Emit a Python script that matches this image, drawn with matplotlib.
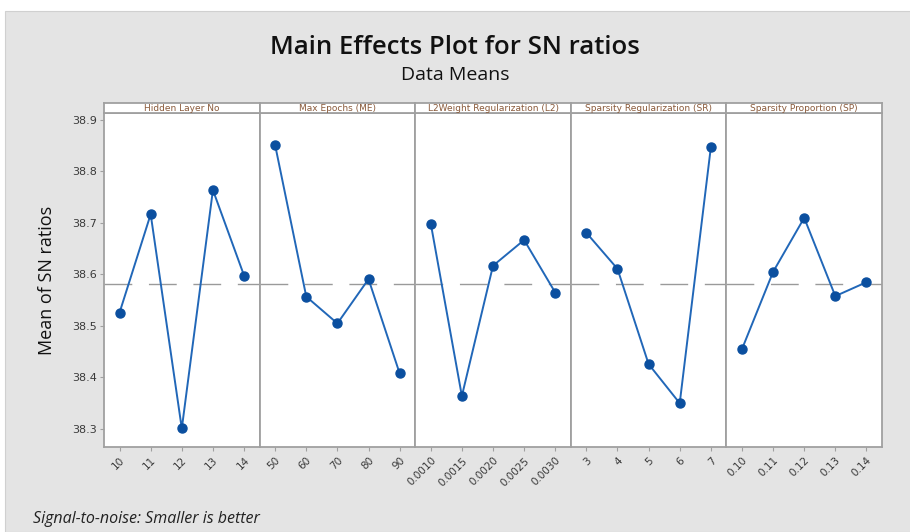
import matplotlib
matplotlib.use("Agg")
import matplotlib.pyplot as plt
from matplotlib.patches import Rectangle

plt.rcParams['font.family'] = ['Open Sans', 'DejaVu Sans']

# Czynniki i poziomy
FACTORS = ["Hidden Layer No", "Max Epochs (ME)", "L2Weight Regularization (L2)",
           "Sparsity Regularization (SR)", "Sparsity Proportion (SP)"]
LEVELS = [
    ["10", "11", "12", "13", "14"],
    ["50", "60", "70", "80", "90"],
    ["0.0010", "0.0015", "0.0020", "0.0025", "0.0030"],
    ["3", "4", "5", "6", "7"],
    ["0.10", "0.11", "0.12", "0.13", "0.14"],
]
SN_HIDDEN = [38.526, 38.717, 38.301, 38.764, 38.598]
SN_EPOCHS = [38.851, 38.557, 38.505, 38.591, 38.408]
SN_L2 = [38.699, 38.364, 38.617, 38.667, 38.565]
SN_SR = [38.681, 38.611, 38.426, 38.350, 38.847]
SN_SP = [38.455, 38.605, 38.710, 38.558, 38.585]
SN_MEANS = [SN_HIDDEN, SN_EPOCHS, SN_L2, SN_SR, SN_SP]
GRAND_MEAN = 38.581
Y_TICKS = [38.3, 38.4, 38.5, 38.6, 38.7, 38.8, 38.9]

W, H = 910, 532
fig = plt.figure(figsize=(W / 100, H / 100), dpi=100)
fig.patch.set_facecolor("white")
fig.patches.append(Rectangle((5 / W, 0), 1, 1 - 11 / H, transform=fig.transFigure,
                             facecolor="#e4e4e4", edgecolor="#d0d0d0", lw=0.8, zorder=-10))

frame_col = "#a0a0a0"
left, right = 104 / W, 882 / W
pw = (right - left) / len(FACTORS)
bottom = 1 - 447 / H
top = 1 - 113 / H
hdr_h = 10 / H

for i, (name, levels, vals) in enumerate(zip(FACTORS, LEVELS, SN_MEANS)):
    x0 = left + i * pw
    ax = fig.add_axes([x0, bottom, pw, top - bottom])
    ax.set_facecolor("white")
    x = list(range(1, len(levels) + 1))
    ax.axhline(GRAND_MEAN, color="#9a9a9a", lw=1.0, ls=(0, (20, 12)), zorder=1)
    ax.plot(x, vals, color="#2167b8", lw=1.4, zorder=2)
    ax.plot(x, vals, ls="none", marker="o", ms=6.5, color="#0b4f9f", zorder=3)
    ax.set_xlim(0.5, 5.5)
    ax.set_ylim(38.265, 38.9136)
    ax.set_xticks(x)
    ax.set_xticklabels(levels, rotation=45, ha="right", va="top", rotation_mode="anchor",
                       fontsize=7.5, color="#3a3a3a", family="DejaVu Sans")
    ax.tick_params(axis="x", length=3, width=0.8, color=frame_col, pad=3)
    if i == 0:
        ax.set_yticks(Y_TICKS)
        ax.set_yticklabels([f"{v:.1f}" for v in Y_TICKS], fontsize=8, color="#3a3a3a",
                           family="DejaVu Sans")
        ax.tick_params(axis="y", length=3, width=0.8, color=frame_col, pad=2)
        ax.set_ylabel("Mean of SN ratios", fontsize=13, color="#111111", labelpad=12)
    else:
        ax.set_yticks([])
    for s in ax.spines.values():
        s.set_color(frame_col)
        s.set_linewidth(1.3)

    # naglowek panelu
    hx = fig.add_axes([x0, top, pw, hdr_h])
    hx.set_facecolor("white")
    hx.set_xticks([])
    hx.set_yticks([])
    for s in hx.spines.values():
        s.set_color(frame_col)
        s.set_linewidth(1.3)
    hx.text(0.5, 0.45, name, ha="center", va="center", fontsize=6.5,
            color="#8a5a3a", family="DejaVu Sans", transform=hx.transAxes)

fig.text(0.5, 1 - 47 / H, "Main Effects Plot for SN ratios", ha="center", va="center",
         fontsize=18.5, weight="semibold", color="#111111")
fig.text(0.5, 1 - 75 / H, "Data Means", ha="center", va="center",
         fontsize=14, color="#111111")
fig.text(33 / W, 1 - 519 / H, "Signal-to-noise: Smaller is better", ha="left", va="center",
         fontsize=11.5, style="italic", color="#222222")

fig.savefig("out.png", dpi=100)
